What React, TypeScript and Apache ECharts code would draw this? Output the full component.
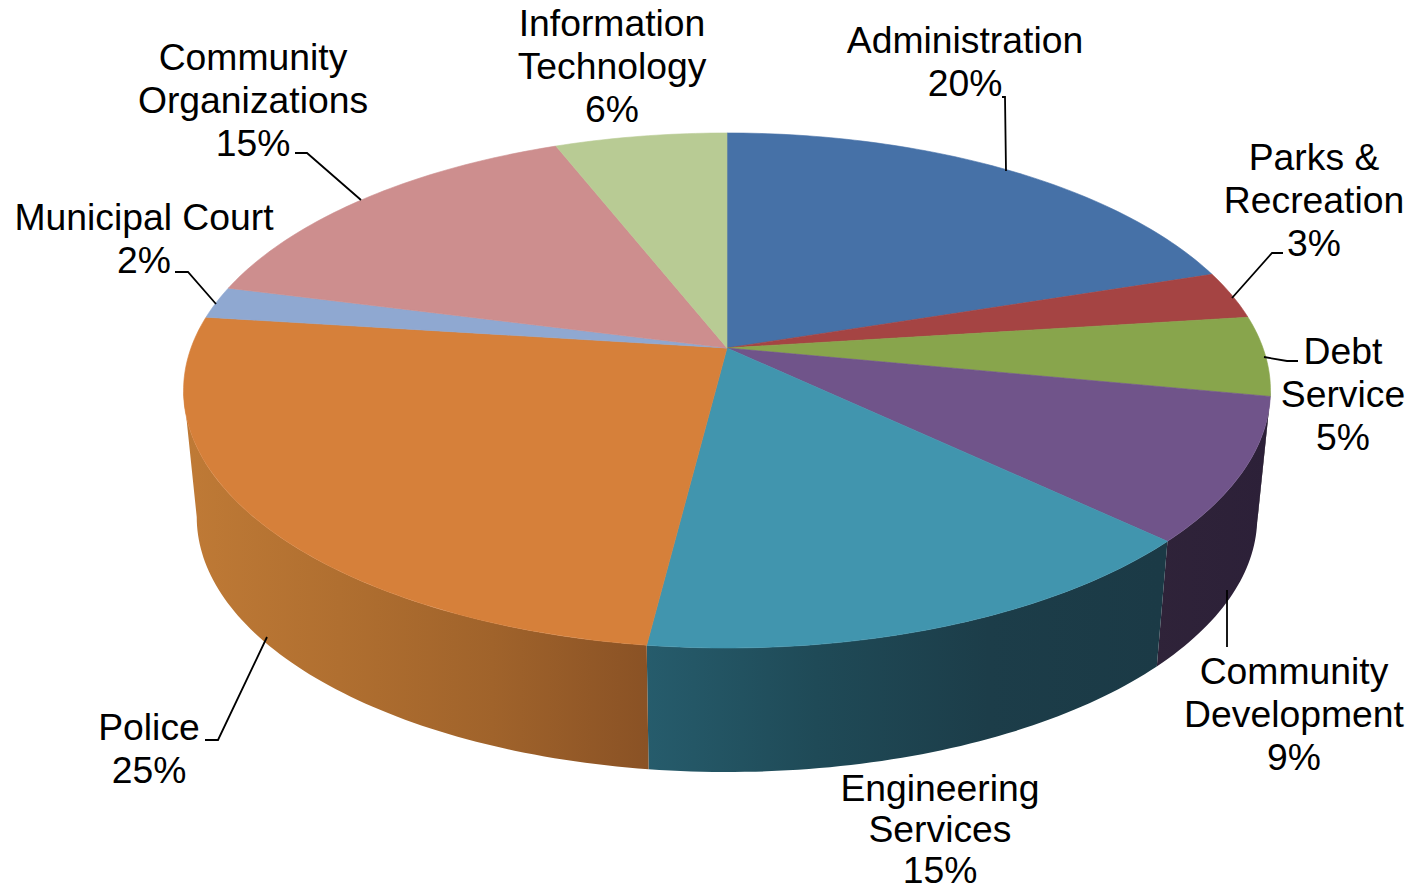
import React, { useEffect, useRef } from "react";
import * as echarts from "echarts";

// Budget share by department, clockwise from twelve o'clock.
const categories = [
  "Administration",
  "Parks &\nRecreation",
  "Debt\nService",
  "Community\nDevelopment",
  "Engineering\nServices",
  "Police",
  "Municipal Court",
  "Community\nOrganizations",
  "Information\nTechnology",
];
const shares = [20, 3, 5, 9, 15, 25, 2, 15, 6];

const topColors = [
  "#4671a7", "#a54443", "#88a54c", "#70548a", "#4195ae",
  "#d6803a", "#8fa8d1", "#cd8e8e", "#b8cb94",
];
// Side-wall shading, light to dark across the visible rim.
const wallColors: string[][] = [
  ["#2c4766", "#2c4766"],
  ["#662a2a", "#662a2a"],
  ["#3c3a38", "#3c3a38"],
  ["#2f2339", "#2c2038"],
  ["#265c6c", "#1f4a57", "#1c3d49", "#1b3a46"],
  ["#bf7a36", "#b06f30", "#a0632b", "#8a5225"],
  ["#5a6a85", "#5a6a85"],
  ["#805858", "#805858"],
  ["#75805c", "#75805c"],
];
const wallSpans = [
  [900, 1300], [900, 1300], [900, 1300], [1150, 1270], [645, 1160],
  [185, 647], [185, 300], [200, 600], [500, 727],
];

// Text block anchors: centre x, middle of the first line, line pitch.
const labelCenterX = [965, 1314, 1343, 1294, 940, 149, 144, 253, 612];
const labelFirstLineY = [40, 157, 351, 671, 788, 727, 217, 57, 23];
const labelLinePitch = [43.2, 43.2, 43.2, 43.2, 41, 43.2, 43.2, 43.2, 43.2];

const leaderLines: number[][][] = [
  [[1006, 171], [1005, 97], [1002, 97]],
  [[1232, 298], [1272, 253], [1283, 253]],
  [[1264, 357], [1287, 361], [1298, 361]],
  [[1227, 590], [1227, 647]],
  [],
  [[267, 637], [218, 740], [205, 740]],
  [[216, 304], [188, 272], [175, 272]],
  [[361, 200], [307, 153], [295, 153]],
  [],
];

const FONT_SIZE = 37.3;

// Perspective view of the disc: the rim circle is foreshortened with a
// slight convergence, so the hub sits above the middle of the ellipse.
const HUB_X = 727;
const CONVERGENCE = 0.165;
const TOP_FACE = { cy: 348, a: 536, b: 250.5 };
const BOTTOM_FACE = { cy: 475, a: 523, b: 248 };

// The rim faces the viewer only between the two tangent points of the disc.
const tangentTurn = Math.acos(-CONVERGENCE) / (Math.PI * 2);
const FRONT_START = tangentTurn;
const FRONT_END = 1 - tangentTurn;

function project(turn: number, face: { cy: number; a: number; b: number }) {
  const angle = turn * Math.PI * 2;
  const u = Math.sin(angle);
  const v = -Math.cos(angle);
  const d = 1 - CONVERGENCE * v;
  return [HUB_X + (face.a * u) / d, face.cy + (face.b * v) / d];
}

const total = shares.reduce((s, v) => s + v, 0);
const spans = shares.map((_, i) => {
  const before = shares.slice(0, i).reduce((s, v) => s + v, 0);
  return [before / total, (before + shares[i]) / total];
});

function arc(start: number, end: number, face: typeof TOP_FACE) {
  const steps = Math.max(2, Math.ceil((end - start) * 360));
  const pts: number[][] = [];
  for (let i = 0; i <= steps; i++) {
    pts.push(project(start + ((end - start) * i) / steps, face));
  }
  return pts;
}

function renderWall(params: any) {
  const i = params.dataIndex;
  const start = Math.max(spans[i][0], FRONT_START);
  const end = Math.min(spans[i][1], FRONT_END);
  if (end <= start) return null;
  const points = [
    ...arc(start, end, TOP_FACE),
    ...arc(start, end, BOTTOM_FACE).reverse(),
  ];
  const stops = wallColors[i].map((color, k, all) => ({
    offset: k / (all.length - 1),
    color,
  }));
  const fill = new echarts.graphic.LinearGradient(
    wallSpans[i][0], 0, wallSpans[i][1], 0, stops, true,
  );
  return { type: "polygon", shape: { points }, style: { fill } };
}

function renderTop(params: any) {
  const i = params.dataIndex;
  const [start, end] = spans[i];
  const points = [[HUB_X, TOP_FACE.cy], ...arc(start, end, TOP_FACE)];
  return {
    type: "polygon",
    shape: { points },
    style: { fill: topColors[i], stroke: topColors[i], lineWidth: 0.6 },
  };
}

export default function App() {
  const ref = useRef<HTMLDivElement>(null);

  useEffect(() => {
    const chart = echarts.init(ref.current, null, { renderer: "svg" });
    const labels = categories.map((name, i) => ({
      type: "text",
      z: 10,
      style: {
        text: `${name}\n${shares[i]}%`,
        x: labelCenterX[i],
        y: labelFirstLineY[i] - labelLinePitch[i] / 2,
        textAlign: "center",
        textVerticalAlign: "top",
        font: `${FONT_SIZE}px "Liberation Sans", Arial, sans-serif`,
        lineHeight: labelLinePitch[i],
        fill: "#000000",
      },
    }));
    const leaders = leaderLines
      .filter((points) => points.length > 0)
      .map((points) => ({
        type: "polyline",
        z: 9,
        shape: { points },
        style: { stroke: "#000000", lineWidth: 1.8, fill: "none" },
      }));
    chart.setOption({
      animation: false,
      backgroundColor: "#ffffff",
      graphic: { elements: [...leaders, ...labels] },
      series: [
        {
          type: "custom",
          name: "Rim",
          coordinateSystem: "none",
          renderItem: renderWall,
          data: shares,
          z: 1,
          silent: true,
        },
        {
          type: "custom",
          name: "Face",
          coordinateSystem: "none",
          renderItem: renderTop,
          data: shares,
          z: 2,
          silent: true,
        },
      ],
    });
    return () => chart.dispose();
  }, []);

  return (
    <div
      ref={ref}
      style={{ position: "absolute", left: 0, top: 0, width: 1420, height: 891 }}
    />
  );
}
